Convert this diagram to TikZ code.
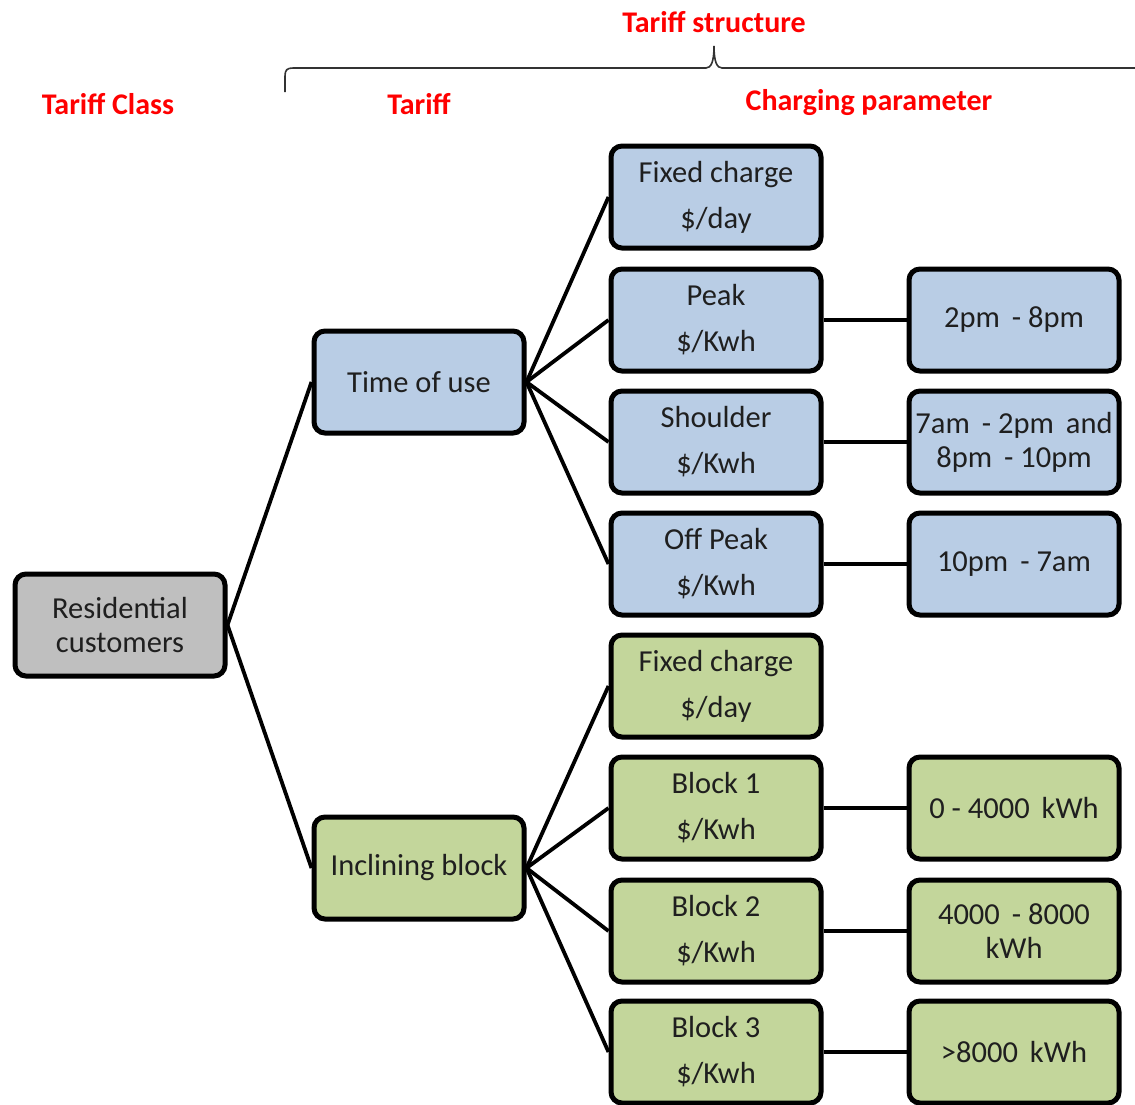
\documentclass[tikz,border=0pt]{standalone}
\usepackage{fontspec}
\setmainfont{Carlito}

\definecolor{touBlue}{HTML}{B9CDE5}
\definecolor{incGreen}{HTML}{C3D69B}
\definecolor{resGray}{HTML}{BFBFBF}
\definecolor{headRed}{HTML}{FF0000}

\begin{document}
\begin{tikzpicture}[x=1pt,y=-1pt,
  box/.style={draw=black, line width=5pt, rounded corners=11pt,
    minimum width=210pt, minimum height=102pt, inner sep=0pt,
    align=center, text=black!88, font=\fontsize{30.5}{34}\selectfont},
  tou/.style={box, fill=touBlue},
  inc/.style={box, fill=incGreen},
  head/.style={text=headRed, font=\bfseries\fontsize{30}{34}\selectfont},
  conn/.style={line width=3.8pt, black}]
  \useasboundingbox (0,0) rectangle (1135,1104);
  \clip (0,0) rectangle (1135,1104);

  % headings
  \node[head] (hStruct) at (714,22) {Tariff structure};
  \node[head] (hClass) at (108,104) {Tariff Class};
  \node[head] (hTariff) at (419,104) {Tariff};
  \node[head] (hCharge) at (869,103) {Charging parameter};

  % brace over tariff and charging parameter
  \draw[line width=1.6pt, black!80] (285,92) -- (285,76)
    .. controls (285,70) and (287,68) .. (293,68) -- (706,68)
    .. controls (711,68) and (714,62) .. (714,46)
    .. controls (714,62) and (717,68) .. (722,68) -- (1140,68);

  % tariff class
  \node[box, fill=resGray] (res) at (120,625) {Residential\\customers};

  % tariffs
  \node[tou] (tou) at (419,382) {Time of use};
  \node[inc] (inc) at (419,868) {Inclining block};

  % charging parameters, time of use
  \node[tou] (touFix) at (716,197) {Fixed charge\\[12pt]\$/day};
  \node[tou] (touPeak) at (716,320) {Peak\\[12pt]\$/Kwh};
  \node[tou] (touShoulder) at (716,442) {Shoulder\\[12pt]\$/Kwh};
  \node[tou] (touOff) at (716,564) {Off Peak\\[12pt]\$/Kwh};

  % charging parameters, inclining block
  \node[inc] (incFix) at (716,686) {Fixed charge\\[12pt]\$/day};
  \node[inc] (incOne) at (716,808) {Block 1\\[12pt]\$/Kwh};
  \node[inc] (incTwo) at (716,931) {Block 2\\[12pt]\$/Kwh};
  \node[inc] (incThree) at (716,1052) {Block 3\\[12pt]\$/Kwh};

  % periods and ranges
  \node[tou] (peakT) at (1014,320) {2pm\,\ - 8pm};
  \node[tou] (shoulderT) at (1014,442) {7am\,\ - 2pm\,\ and\\8pm\,\ - 10pm};
  \node[tou] (offT) at (1014,564) {10pm\,\ - 7am};
  \node[inc] (oneR) at (1014,808) {0 - 4000\,\ kWh};
  \node[inc] (twoR) at (1014,931) {4000\,\ - 8000\\kWh};
  \node[inc] (threeR) at (1014,1052) {>8000\,\ kWh};

  % connectors
  \draw[conn] (res.east) -- (tou.west);
  \draw[conn] (res.east) -- (inc.west);
  \draw[conn] (tou.east) -- (touFix.west);
  \draw[conn] (tou.east) -- (touPeak.west);
  \draw[conn] (tou.east) -- (touShoulder.west);
  \draw[conn] (tou.east) -- (touOff.west);
  \draw[conn] (inc.east) -- (incFix.west);
  \draw[conn] (inc.east) -- (incOne.west);
  \draw[conn] (inc.east) -- (incTwo.west);
  \draw[conn] (inc.east) -- (incThree.west);
  \draw[conn] (touPeak.east) -- (peakT.west);
  \draw[conn] (touShoulder.east) -- (shoulderT.west);
  \draw[conn] (touOff.east) -- (offT.west);
  \draw[conn] (incOne.east) -- (oneR.west);
  \draw[conn] (incTwo.east) -- (twoR.west);
  \draw[conn] (incThree.east) -- (threeR.west);
\end{tikzpicture}
\end{document}
